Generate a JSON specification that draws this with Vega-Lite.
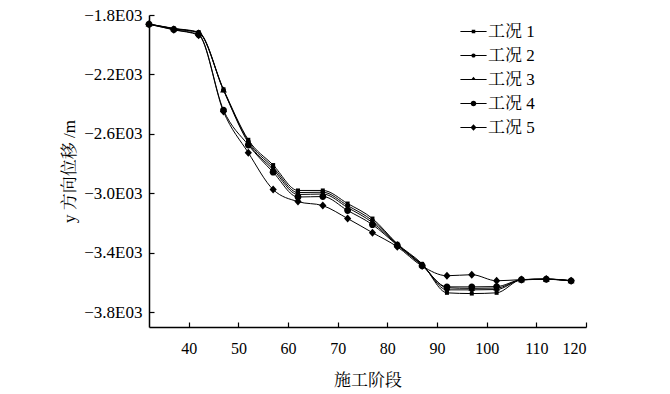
{
  "$schema": "https://vega.github.io/schema/vega-lite/v6.json",
  "autosize": "none",
  "width": 437,
  "height": 312,
  "padding": {"left": 149, "top": 15, "right": 84, "bottom": 67},
  "background": "white",
  "config": {
    "view": {"stroke": null},
    "font": "Liberation Serif",
    "axis": {
      "domainColor": "black", "domainWidth": 1.5, "tickColor": "black", "tickWidth": 1.2,
      "labelColor": "black", "titleColor": "black", "grid": false,
      "labelFont": "Liberation Serif", "labelFontSize": 16,
      "titleFont": "Liberation Serif, Noto Serif CJK SC, Noto Sans CJK SC", "titleFontSize": 17, "titleFontWeight": "normal"
    }
  },
  "data": {"values": [
    {"x":32,"s":"工况 1","v":-1861},{"x":32,"s":"工况 2","v":-1861},{"x":32,"s":"工况 3","v":-1861},{"x":32,"s":"工况 4","v":-1862},{"x":32,"s":"工况 5","v":-1862},
    {"x":37,"s":"工况 1","v":-1890},{"x":37,"s":"工况 2","v":-1892},{"x":37,"s":"工况 3","v":-1893},{"x":37,"s":"工况 4","v":-1898},{"x":37,"s":"工况 5","v":-1900},
    {"x":42,"s":"工况 1","v":-1915},{"x":42,"s":"工况 2","v":-1918},{"x":42,"s":"工况 3","v":-1920},{"x":42,"s":"工况 4","v":-1932},{"x":42,"s":"工况 5","v":-1936},
    {"x":47,"s":"工况 1","v":-2300},{"x":47,"s":"工况 2","v":-2305},{"x":47,"s":"工况 3","v":-2306},{"x":47,"s":"工况 4","v":-2440},{"x":47,"s":"工况 5","v":-2450},
    {"x":52,"s":"工况 1","v":-2640},{"x":52,"s":"工况 2","v":-2650},{"x":52,"s":"工况 3","v":-2660},{"x":52,"s":"工况 4","v":-2675},{"x":52,"s":"工况 5","v":-2727},
    {"x":57,"s":"工况 1","v":-2810},{"x":57,"s":"工况 2","v":-2825},{"x":57,"s":"工况 3","v":-2840},{"x":57,"s":"工况 4","v":-2858},{"x":57,"s":"工况 5","v":-2975},
    {"x":62,"s":"工况 1","v":-2981},{"x":62,"s":"工况 2","v":-2995},{"x":62,"s":"工况 3","v":-3008},{"x":62,"s":"工况 4","v":-3025},{"x":62,"s":"工况 5","v":-3056},
    {"x":67,"s":"工况 1","v":-2981},{"x":67,"s":"工况 2","v":-2993},{"x":67,"s":"工况 3","v":-3005},{"x":67,"s":"工况 4","v":-3022},{"x":67,"s":"工况 5","v":-3083},
    {"x":72,"s":"工况 1","v":-3069},{"x":72,"s":"工况 2","v":-3083},{"x":72,"s":"工况 3","v":-3096},{"x":72,"s":"工况 4","v":-3116},{"x":72,"s":"工况 5","v":-3170},
    {"x":77,"s":"工况 1","v":-3170},{"x":77,"s":"工况 2","v":-3184},{"x":77,"s":"工况 3","v":-3197},{"x":77,"s":"工况 4","v":-3211},{"x":77,"s":"工况 5","v":-3265},
    {"x":82,"s":"工况 1","v":-3340},{"x":82,"s":"工况 2","v":-3343},{"x":82,"s":"工况 3","v":-3346},{"x":82,"s":"工况 4","v":-3350},{"x":82,"s":"工况 5","v":-3360},
    {"x":87,"s":"工况 1","v":-3475},{"x":87,"s":"工况 2","v":-3480},{"x":87,"s":"工况 3","v":-3483},{"x":87,"s":"工况 4","v":-3487},{"x":87,"s":"工况 5","v":-3490},
    {"x":92,"s":"工况 1","v":-3670},{"x":92,"s":"工况 2","v":-3650},{"x":92,"s":"工况 3","v":-3636},{"x":92,"s":"工况 4","v":-3630},{"x":92,"s":"工况 5","v":-3555},
    {"x":97,"s":"工况 1","v":-3675},{"x":97,"s":"工况 2","v":-3650},{"x":97,"s":"工况 3","v":-3640},{"x":97,"s":"工况 4","v":-3630},{"x":97,"s":"工况 5","v":-3548},
    {"x":102,"s":"工况 1","v":-3670},{"x":102,"s":"工况 2","v":-3648},{"x":102,"s":"工况 3","v":-3638},{"x":102,"s":"工况 4","v":-3628},{"x":102,"s":"工况 5","v":-3589},
    {"x":107,"s":"工况 1","v":-3582},{"x":107,"s":"工况 2","v":-3582},{"x":107,"s":"工况 3","v":-3583},{"x":107,"s":"工况 4","v":-3582},{"x":107,"s":"工况 5","v":-3581},
    {"x":112,"s":"工况 1","v":-3578},{"x":112,"s":"工况 2","v":-3578},{"x":112,"s":"工况 3","v":-3579},{"x":112,"s":"工况 4","v":-3578},{"x":112,"s":"工况 5","v":-3577},
    {"x":117,"s":"工况 1","v":-3589},{"x":117,"s":"工况 2","v":-3589},{"x":117,"s":"工况 3","v":-3590},{"x":117,"s":"工况 4","v":-3589},{"x":117,"s":"工况 5","v":-3588}
  ]},
  "encoding": {
    "x": {"field": "x", "type": "quantitative",
      "scale": {"domain": [32, 120], "nice": false, "zero": false},
      "axis": {"values": [40,50,60,70,80,90,100,110,120], "tickSize": -5, "labelPadding": 18, "title": "施工阶段", "titlePadding": 16}},
    "y": {"field": "v", "type": "quantitative",
      "scale": {"domain": [-3900, -1800], "nice": false, "zero": false},
      "axis": {"values": [-3800,-3400,-3000,-2600,-2200,-1800], "tickSize": -5, "labelPadding": 12, "labelFontSize": 17,
        "labelExpr": "'−' + format(-datum.value/1000, '.1f') + 'E03'",
        "title": "y 方向位移 /m", "titlePadding": 5}}
  },
  "resolve": {"scale": {"shape": "independent"}, "legend": {"shape": "independent"}},
  "layer": [
    {"mark": {"type": "line", "interpolate": "monotone", "color": "black", "strokeWidth": 1},
     "encoding": {"detail": {"field": "s"}}},
    {"mark": {"type": "point", "filled": true, "color": "black", "opacity": 1, "size": 64},
     "encoding": {
       "shape": {"field": "s", "type": "nominal",
         "scale": {"domain": ["工况 1","工况 2","工况 3","工况 4","工况 5"],
           "range": ["M-0.5,-0.5H0.5V0.5H-0.5Z",
                     "M0.6,0A0.6,0.6 0 1,1 -0.6,0A0.6,0.6 0 1,1 0.6,0Z",
                     "M0,-0.9L0.85,0.6H-0.85Z",
                     "M0.85,0A0.85,0.85 0 1,1 -0.85,0A0.85,0.85 0 1,1 0.85,0Z",
                     "M0,-1L0.9,0L0,1L-0.9,0Z"]},
         "legend": null}
     }},
    {"mark": {"type": "point", "filled": true, "color": "black", "opacity": 0, "size": 200},
     "encoding": {
       "shape": {"field": "s", "type": "nominal",
         "scale": {"domain": ["工况 1","工况 2","工况 3","工况 4","工况 5"],
           "range": ["M-1.85,-0.08H1.85V0.08H-1.85Z M-0.25,-0.25H0.25V0.25H-0.25Z",
                     "M-1.85,-0.08H1.85V0.08H-1.85Z M0.3,0A0.3,0.3 0 1,1 -0.3,0A0.3,0.3 0 1,1 0.3,0Z",
                     "M-1.85,-0.08H1.85V0.08H-1.85Z M0,-0.4L0.38,0.08H-0.38Z",
                     "M-1.85,-0.08H1.85V0.08H-1.85Z M0.4,0A0.4,0.4 0 1,1 -0.4,0A0.4,0.4 0 1,1 0.4,0Z",
                     "M-1.85,-0.08H1.85V0.08H-1.85Z M0,-0.45L0.42,0L0,0.45L-0.42,0Z"]},
         "legend": {"orient": "none", "legendX": 316, "legendY": 8, "title": null,
           "labelFont": "Liberation Serif, Noto Serif CJK SC, Noto Sans CJK SC", "labelFontSize": 17, "labelColor": "black",
           "symbolSize": 200, "symbolFillColor": "black", "symbolStrokeWidth": 0, "symbolOpacity": 1, "rowPadding": 6, "labelOffset": 6}
       }
     }}
  ]
}
